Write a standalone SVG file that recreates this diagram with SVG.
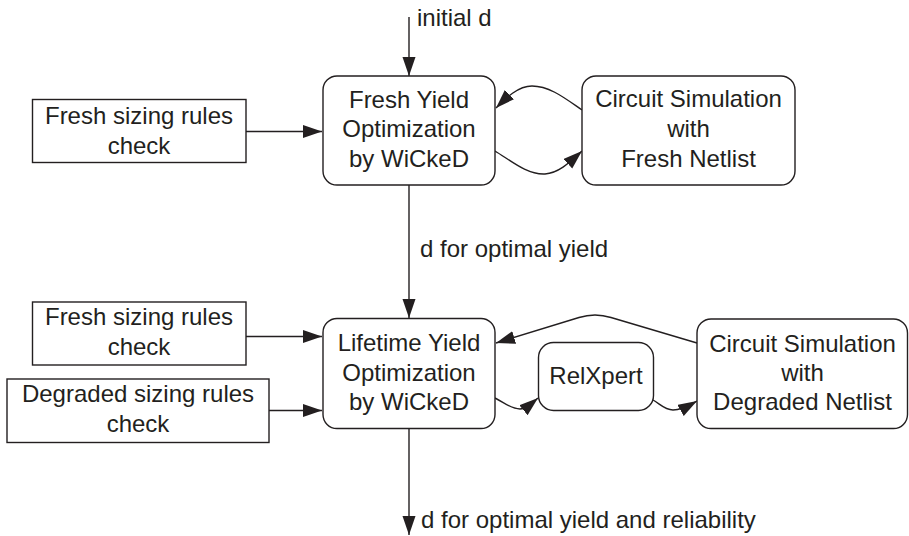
<svg xmlns="http://www.w3.org/2000/svg" width="909" height="536" viewBox="0 0 909 536">
<style>
.box{fill:#fff;stroke:#231f20;stroke-width:1.4}
.t{font-family:"Liberation Sans",Arial,sans-serif;font-size:24px;fill:#231f20;text-anchor:middle}
.l{font-family:"Liberation Sans",Arial,sans-serif;font-size:24px;fill:#231f20}
.c{fill:none;stroke:#231f20;stroke-width:1.4}
</style>
<defs>
<marker id="ah" markerUnits="userSpaceOnUse" markerWidth="20" markerHeight="14" refX="19" refY="6.5" orient="auto">
<path d="M0,0 L19,6.5 L0,13 z" fill="#231f20"/>
</marker>
</defs>
<rect width="909" height="536" fill="#fff"/>
<g id="connectors">
<path class="c" d="M409,17 V76" marker-end="url(#ah)"/>
<path class="c" d="M246,131.5 H322" marker-end="url(#ah)"/>
<path class="c" d="M582,110 C566,99 550,86 532,86 C518,86 506,98 496,108" marker-end="url(#ah)"/>
<path class="c" d="M495,151 C510,160 527,175 545,174 C560,173 572,160 582,151" marker-end="url(#ah)"/>
<path class="c" d="M409,185 V318" marker-end="url(#ah)"/>
<path class="c" d="M246,336.5 H322" marker-end="url(#ah)"/>
<path class="c" d="M269,410.5 H322" marker-end="url(#ah)"/>
<path class="c" d="M697,343 L611,317.5 C600,314 590,314 579,317.5 L496,343" marker-end="url(#ah)"/>
<path class="c" d="M495,398 C505,403 511,409 520,409 C527,409 532,403 538,398" marker-end="url(#ah)"/>
<path class="c" d="M653,400 C660,404 665,410 673,410 C682,410 690,405 697,401" marker-end="url(#ah)"/>
<path class="c" d="M409,428 V535" marker-end="url(#ah)"/>
<text class="l" x="417" y="26">initial d</text>
<text class="l" x="420" y="256.5">d for optimal yield</text>
<text class="l" x="421" y="528">d for optimal yield and reliability</text>
</g>
<g id="fresh-check-1">
<rect class="box" x="32.5" y="99.5" width="213.5" height="63"/>
<text class="t" x="139" y="123.5">Fresh sizing rules</text>
<text class="t" x="139" y="153.5">check</text>
</g>
<g id="fresh-opt">
<rect class="box" x="323" y="76" width="172" height="109" rx="14"/>
<text class="t" x="409" y="107.5">Fresh Yield</text>
<text class="t" x="409" y="137">Optimization</text>
<text class="t" x="409" y="166.5">by WiCkeD</text>
</g>
<g id="fresh-sim">
<rect class="box" x="582" y="76" width="213" height="109" rx="14"/>
<text class="t" x="688.5" y="107">Circuit Simulation</text>
<text class="t" x="688.5" y="137">with</text>
<text class="t" x="688.5" y="166.5">Fresh Netlist</text>
</g>
<g id="fresh-check-2">
<rect class="box" x="32.5" y="302" width="213.5" height="63"/>
<text class="t" x="139" y="325">Fresh sizing rules</text>
<text class="t" x="139" y="355">check</text>
</g>
<g id="degraded-check">
<rect class="box" x="7" y="379" width="262" height="63.5"/>
<text class="t" x="138" y="401.5">Degraded sizing rules</text>
<text class="t" x="138" y="431.5">check</text>
</g>
<g id="lifetime-opt">
<rect class="box" x="323" y="318.5" width="172" height="110" rx="14"/>
<text class="t" x="409" y="351">Lifetime Yield</text>
<text class="t" x="409" y="380.5">Optimization</text>
<text class="t" x="409" y="410">by WiCkeD</text>
</g>
<g id="relxpert">
<rect class="box" x="538.5" y="342.5" width="115" height="68" rx="15"/>
<text class="t" x="596" y="383.5">RelXpert</text>
</g>
<g id="degraded-sim">
<rect class="box" x="697" y="319" width="210.5" height="109.5" rx="14"/>
<text class="t" x="802.5" y="351.5">Circuit Simulation</text>
<text class="t" x="802.5" y="381">with</text>
<text class="t" x="802.5" y="410">Degraded Netlist</text>
</g>
</svg>
